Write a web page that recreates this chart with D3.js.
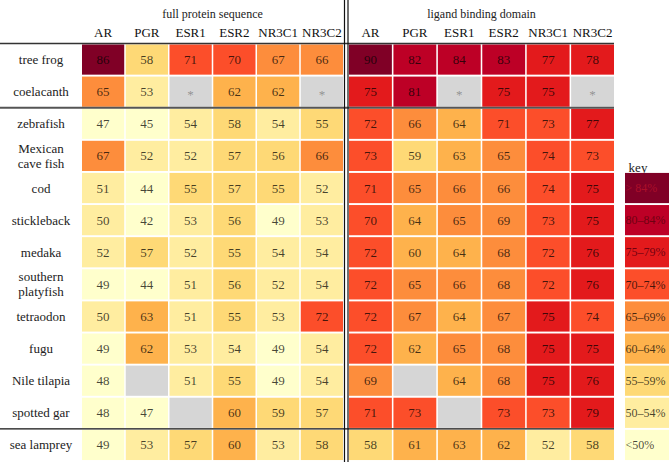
<!DOCTYPE html>
<html><head><meta charset="utf-8">
<script src="https://cdn.jsdelivr.net/npm/d3@7"></script>
<style>html,body{margin:0;padding:0;background:#fff;overflow:hidden} svg text{font-family:"Liberation Serif","Times New Roman",Times,"DejaVu Serif",serif;}</style>
</head><body><svg id="c" width="669" height="462"></svg>
<script>
const species = ["tree frog","coelacanth","zebrafish","Mexican cave fish","cod","stickleback","medaka","southern platyfish","tetraodon","fugu","Nile tilapia","spotted gar","sea lamprey"];
const speciesLines = [["tree frog"],["coelacanth"],["zebrafish"],["Mexican","cave fish"],["cod"],["stickleback"],["medaka"],["southern","platyfish"],["tetraodon"],["fugu"],["Nile tilapia"],["spotted gar"],["sea lamprey"]];
const genes = ["AR","PGR","ESR1","ESR2","NR3C1","NR3C2"];
const blockTitles = ["full protein sequence","ligand binding domain"];
// "*" = marked missing, null = blank missing
const fullSeq = [
  [86,58,71,70,67,66],
  [65,53,"*",62,62,"*"],
  [47,45,54,58,54,55],
  [67,52,52,57,56,66],
  [51,44,55,57,55,52],
  [50,42,53,56,49,53],
  [52,57,52,55,54,54],
  [49,44,51,56,52,54],
  [50,63,51,55,53,72],
  [49,62,53,54,49,54],
  [48,null,51,55,49,54],
  [48,47,null,60,59,57],
  [49,53,57,60,53,58]
];
const lbd = [
  [90,82,84,83,77,78],
  [75,81,"*",75,75,"*"],
  [72,66,64,71,73,77],
  [73,59,63,65,74,73],
  [71,65,66,66,74,75],
  [70,64,65,69,73,75],
  [72,60,64,68,72,76],
  [72,65,66,68,72,76],
  [72,67,64,67,75,74],
  [72,62,65,68,75,75],
  [69,null,64,68,75,76],
  [71,73,null,73,73,79],
  [58,61,63,62,52,58]
];
const thresholds = [50,55,60,65,70,75,80,85];
const colors = ["#ffffcc","#ffeda0","#fed976","#feb24c","#fd8d3c","#fc4e2a","#e31a1c","#bd0026","#800026"];
const keyLabels = ["> 84%","80–84%","75–79%","70–74%","65–69%","60–64%","55–59%","50–54%","<50%"];
const missingColor = "#d6d6d6";

const svg = d3.select("#c");
const color = d3.scaleThreshold().domain(thresholds).range(colors);
const y = d3.scaleBand().domain(d3.range(species.length)).range([43.5, 461]).paddingInner(0.06).paddingOuter(0.03);
const xL = d3.scaleBand().domain(genes).range([82, 343]).paddingInner(0.035);
const xR = d3.scaleBand().domain(genes).range([349, 614]).paddingInner(0.035);

function block(data, x, title) {
  const g = svg.append("g");
  const [x0, x1] = x.range();
  g.append("text").attr("x", (x0 + x1) / 2).attr("y", 18).attr("text-anchor", "middle")
    .attr("font-size", 12).attr("fill", "#222").text(title);
  g.selectAll(".hd").data(genes).join("text")
    .attr("x", d => x(d) + x.bandwidth() / 2).attr("y", 37).attr("text-anchor", "middle")
    .attr("font-size", 13).attr("fill", "#111").text(d => d);
  const cells = [];
  data.forEach((row, i) => row.forEach((v, j) => cells.push({i, j, v})));
  g.selectAll("rect").data(cells).join("rect")
    .attr("x", d => x(genes[d.j])).attr("y", d => y(d.i))
    .attr("width", x.bandwidth()).attr("height", y.bandwidth())
    .attr("fill", d => typeof d.v === "number" ? color(d.v) : missingColor);
  g.selectAll(".v").data(cells.filter(d => d.v !== null)).join("text")
    .attr("x", d => x(genes[d.j]) + x.bandwidth() / 2).attr("y", d => y(d.i) + y.bandwidth() / 2)
    .attr("dy", d => d.v === "*" ? "0.55em" : "0.35em")
    .attr("text-anchor", "middle").attr("font-size", 13)
    .attr("fill", d => d.v === "*" ? "#777" : "#000").attr("fill-opacity", 0.72)
    .text(d => d.v);
}
block(fullSeq, xL, blockTitles[0]);
block(lbd, xR, blockTitles[1]);

// row labels
const rl = svg.append("g");
speciesLines.forEach((lines, i) => {
  const cy = y(i) + y.bandwidth() / 2;
  lines.forEach((t, k) => {
    rl.append("text").attr("x", 41).attr("y", cy + (k - (lines.length - 1) / 2) * 15)
      .attr("dy", "0.35em").attr("text-anchor", "middle")
      .attr("font-size", 13).attr("fill", "#222").text(t);
  });
});

// separators
svg.append("line").attr("x1", 0).attr("x2", 614).attr("y1", 43.5).attr("y2", 43.5).attr("stroke", "#333").attr("stroke-width", 1.3);
svg.append("line").attr("x1", 0).attr("x2", 614).attr("y1", y(2) - 1).attr("y2", y(2) - 1).attr("stroke", "#555").attr("stroke-width", 2);
svg.append("line").attr("x1", 0).attr("x2", 614).attr("y1", y(12) - 1).attr("y2", y(12) - 1).attr("stroke", "#111").attr("stroke-width", 1.3);
[344.5, 348].forEach(xx => svg.append("line").attr("x1", xx).attr("x2", xx).attr("y1", 0).attr("y2", 462).attr("stroke", "#111").attr("stroke-width", 1.2));

// key
const kg = svg.append("g");
kg.append("text").attr("x", 638).attr("y", 172).attr("text-anchor", "middle")
  .attr("font-size", 13).attr("fill", "#222").text("key");
const keyData = colors.slice().reverse().map((c, k) => ({c, label: keyLabels[k], row: 4 + k}));
kg.selectAll("rect").data(keyData).join("rect")
  .attr("x", 625).attr("y", d => y(d.row)).attr("width", 48).attr("height", y.bandwidth()).attr("fill", d => d.c);
kg.selectAll(".kl").data(keyData).join("text")
  .attr("x", 625.5).attr("y", d => y(d.row) + y.bandwidth() / 2).attr("dy", "0.35em")
  .attr("font-size", 12).attr("fill", (d, k) => k === 0 ? "#b0102a" : (k < 3 ? "#6a0010" : "#000"))
  .attr("fill-opacity", (d, k) => k < 3 ? 0.95 : 0.72).text(d => d.label);
</script></body></html>
